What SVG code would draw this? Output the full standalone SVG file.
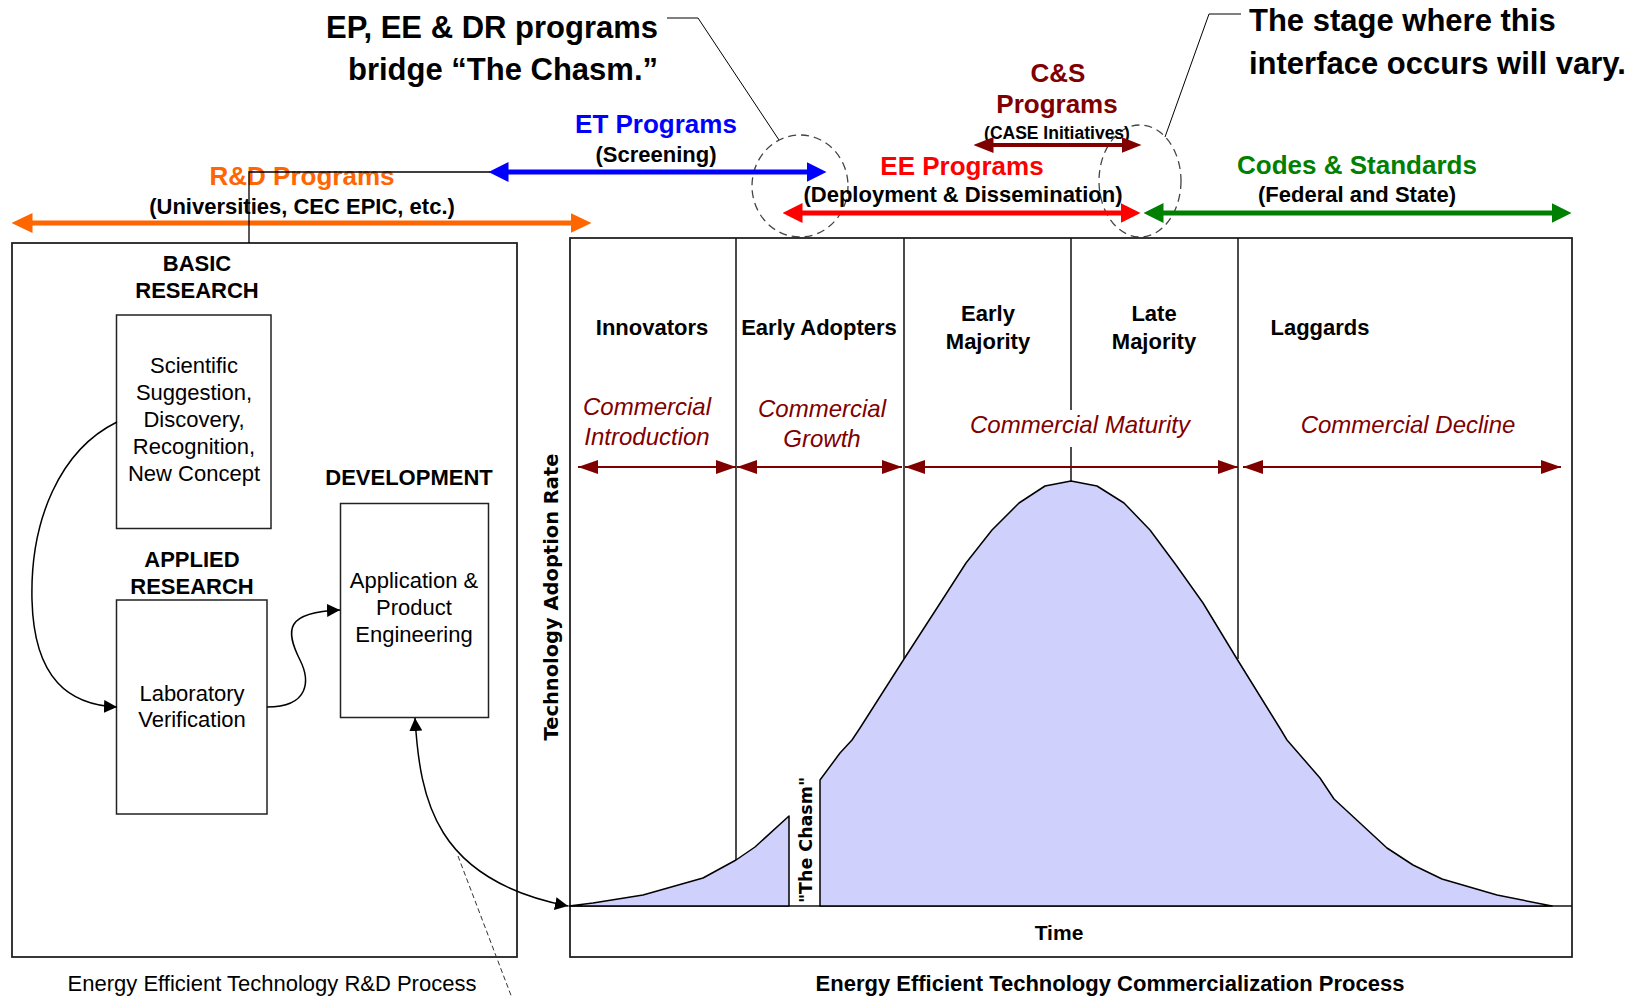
<svg xmlns="http://www.w3.org/2000/svg" width="1645" height="998" viewBox="0 0 1645 998">
<style>
text { font-family: "Liberation Sans", Arial, sans-serif; fill: #000; }
.big { font-size: 31px; font-weight: bold; }
.hdr { font-size: 26px; font-weight: bold; text-anchor: middle; }
.sub { font-size: 22px; font-weight: bold; text-anchor: middle; }
.lbl { font-size: 22px; font-weight: bold; text-anchor: middle; }
.reg { font-size: 22px; text-anchor: middle; }
.it { font-size: 24px; font-style: italic; fill: #800000; text-anchor: middle; }
.wide { font-family: "DejaVu Sans", Verdana, sans-serif; font-weight: bold; text-anchor: middle; }
.box { fill: #fff; stroke: #222; stroke-width: 1.5; }
.frame { fill: none; stroke: #222; stroke-width: 1.8; }
.thin { fill: none; stroke: #000; stroke-width: 1.5; }
.div { fill: none; stroke: #111; stroke-width: 1.5; }
.dash { fill: none; stroke: #444; stroke-width: 1.3; stroke-dasharray: 8 5; }
.mar { stroke: #800000; stroke-width: 2; fill: none; }
.curve { fill: #d0d0fc; stroke: #000; stroke-width: 1.5; stroke-linejoin: round; }
</style>
<defs>
<marker id="mOrange" markerUnits="userSpaceOnUse" markerWidth="21" markerHeight="20" refX="0.5" refY="10" orient="auto-start-reverse"><path d="M0,0 L21,10 L0,20 z" fill="#ff6600"/></marker>
<marker id="mBlue" markerUnits="userSpaceOnUse" markerWidth="20" markerHeight="20" refX="0.5" refY="10" orient="auto-start-reverse"><path d="M0,0 L20,10 L0,20 z" fill="#0000ff"/></marker>
<marker id="mRed" markerUnits="userSpaceOnUse" markerWidth="20" markerHeight="20" refX="0.5" refY="10" orient="auto-start-reverse"><path d="M0,0 L20,10 L0,20 z" fill="#ff0000"/></marker>
<marker id="mGreen" markerUnits="userSpaceOnUse" markerWidth="20" markerHeight="20" refX="0.5" refY="10" orient="auto-start-reverse"><path d="M0,0 L20,10 L0,20 z" fill="#008000"/></marker>
<marker id="mCS" markerUnits="userSpaceOnUse" markerWidth="20" markerHeight="16" refX="0.5" refY="8" orient="auto-start-reverse"><path d="M0,0 L20,8 L0,16 z" fill="#800000"/></marker>
<marker id="mMar" markerUnits="userSpaceOnUse" markerWidth="20" markerHeight="14" refX="20" refY="7" orient="auto-start-reverse"><path d="M0,0 L20,7 L0,14 z" fill="#800000"/></marker>
<marker id="mBlk" markerUnits="userSpaceOnUse" markerWidth="13" markerHeight="13" refX="13" refY="6.5" orient="auto-start-reverse"><path d="M0,0 L13,6.5 L0,13 z" fill="#000"/></marker>
</defs>
<rect width="1645" height="998" fill="#fff"/>

<!-- Callouts -->
<g id="callout-chasm">
<text class="big" x="658" y="38" text-anchor="end">EP, EE &amp; DR programs</text>
<text class="big" x="658" y="80" text-anchor="end">bridge “The Chasm.”</text>
<polyline class="thin" style="stroke-width:1" points="667,18 698,18 779,140"/>
<ellipse class="dash" cx="800" cy="186" rx="48" ry="51"/>
</g>
<g id="callout-stage">
<text class="big" x="1249" y="31">The stage where this</text>
<text class="big" x="1249" y="74">interface occurs will vary.</text>
<polyline class="thin" style="stroke-width:1" points="1241,14 1209,14 1165,137"/>
<ellipse class="dash" cx="1140" cy="181" rx="41" ry="56"/>
</g>

<!-- Program labels -->
<g id="rd-programs">
<text class="hdr" x="302" y="185" fill="#ff6600" style="fill:#ff6600">R&amp;D Programs</text>
<text class="sub" x="302" y="214">(Universities, CEC EPIC, etc.)</text>
</g>
<g id="et-programs">
<text class="hdr" x="656" y="133" style="fill:#0000ff">ET Programs</text>
<text class="sub" x="656" y="162">(Screening)</text>
</g>
<g id="cs-programs">
<text class="hdr" x="1058" y="82" style="fill:#800000">C&amp;S</text>
<text class="hdr" x="1057" y="113" style="fill:#800000">Programs</text>
<text class="sub" x="1057" y="139" style="font-size:17.5px">(CASE Initiatives)</text>
</g>
<g id="ee-programs">
<text class="hdr" x="962" y="175" style="fill:#ff0000">EE Programs</text>
<text class="sub" x="963" y="202">(Deployment &amp; Dissemination)</text>
</g>
<g id="codes-standards">
<text class="hdr" x="1357" y="174" style="fill:#008000">Codes &amp; Standards</text>
<text class="sub" x="1357" y="202">(Federal and State)</text>
</g>

<!-- Left R&D process -->
<g id="rd-process">
<rect class="frame" x="12" y="243" width="505" height="714"/>
<text class="reg" x="272" y="991">Energy Efficient Technology R&amp;D Process</text>
</g>
<g id="basic-research">
<text class="lbl" x="197" y="271">BASIC</text>
<text class="lbl" x="197" y="298">RESEARCH</text>
<rect class="box" x="116.5" y="315" width="154.5" height="213.5"/>
<text class="reg" x="194" y="373">Scientific</text>
<text class="reg" x="194" y="400">Suggestion,</text>
<text class="reg" x="194" y="427">Discovery,</text>
<text class="reg" x="194" y="454">Recognition,</text>
<text class="reg" x="194" y="481">New Concept</text>
</g>
<g id="applied-research">
<text class="lbl" x="192" y="567">APPLIED</text>
<text class="lbl" x="192" y="594">RESEARCH</text>
<rect class="box" x="116.5" y="600" width="150.5" height="214"/>
<text class="reg" x="192" y="701">Laboratory</text>
<text class="reg" x="192" y="727">Verification</text>
</g>
<g id="development">
<text class="lbl" x="409" y="485">DEVELOPMENT</text>
<rect class="box" x="340.5" y="503.5" width="148" height="214"/>
<text class="reg" x="414" y="588">Application &amp;</text>
<text class="reg" x="414" y="615">Product</text>
<text class="reg" x="414" y="642">Engineering</text>
</g>

<!-- Right commercialization process -->
<g id="commercialization">
<rect class="frame" x="570" y="238" width="1002" height="719"/>
<line class="div" x1="736" y1="238" x2="736" y2="860"/>
<line class="div" x1="904" y1="238" x2="904" y2="659"/>
<line class="div" x1="1071" y1="238" x2="1071" y2="410"/>
<line class="div" x1="1071" y1="447" x2="1071" y2="481"/>
<line class="div" x1="1238" y1="238" x2="1238" y2="659"/>
<line class="div" x1="570" y1="906" x2="1572" y2="906"/>
<path class="curve" d="M569,906 L593,903 L643,895 L703,878 L736,860 L755,847 L789,816 L789,906 Z"/>
<path class="curve" d="M820,906 L820,780 L840,753 L852,740 L860,728 L904,659 L937,608 L966,563 L992,530 L1019,503 L1045,486 L1071,481 L1097,486 L1124,503 L1150,530 L1176,565 L1203,603 L1237,659 L1281,730 L1287,740 L1320,778 L1334,799 L1387,848 L1413,865 L1442,879 L1497,895 L1552,906 Z"/>
<text class="wide" transform="translate(812,840) rotate(-90)" style="font-size:17.5px" textLength="126" lengthAdjust="spacingAndGlyphs">"The Chasm"</text>
<text class="wide" transform="translate(558,597) rotate(-90)" style="font-size:19px" textLength="287" lengthAdjust="spacingAndGlyphs">Technology Adoption Rate</text>
<text class="lbl" x="1059" y="940" style="font-size:21px">Time</text>
<text class="lbl" x="1110" y="991">Energy Efficient Technology Commercialization Process</text>
</g>
<g id="stage-innovators">
<text class="lbl" x="652" y="335">Innovators</text>
<text class="it" x="647" y="415">Commercial</text>
<text class="it" x="647" y="445">Introduction</text>
</g>
<g id="stage-early-adopters">
<text class="lbl" x="819" y="335">Early Adopters</text>
<text class="it" x="822" y="417">Commercial</text>
<text class="it" x="822" y="447">Growth</text>
</g>
<g id="stage-early-majority">
<text class="lbl" x="988" y="321">Early</text>
<text class="lbl" x="988" y="349">Majority</text>
</g>
<g id="stage-late-majority">
<text class="lbl" x="1154" y="321">Late</text>
<text class="lbl" x="1154" y="349">Majority</text>
</g>
<g id="stage-maturity">
<text class="it" x="1080" y="433">Commercial Maturity</text>
</g>
<g id="stage-laggards">
<text class="lbl" x="1320" y="335">Laggards</text>
<text class="it" x="1408" y="433">Commercial Decline</text>
</g>

<!-- Connectors -->
<g id="connectors">
<line x1="32" y1="223" x2="571" y2="223" stroke="#ff6600" stroke-width="5" marker-start="url(#mOrange)" marker-end="url(#mOrange)"/>
<line x1="508" y1="172" x2="807" y2="172" stroke="#0000ff" stroke-width="5" marker-start="url(#mBlue)" marker-end="url(#mBlue)"/>
<line x1="802" y1="213" x2="1121" y2="213" stroke="#ff0000" stroke-width="5" marker-start="url(#mRed)" marker-end="url(#mRed)"/>
<line x1="1163" y1="213" x2="1552" y2="213" stroke="#008000" stroke-width="5" marker-start="url(#mGreen)" marker-end="url(#mGreen)"/>
<line x1="993" y1="145" x2="1122" y2="145" stroke="#800000" stroke-width="4" marker-start="url(#mCS)" marker-end="url(#mCS)"/>
<polyline class="thin" style="stroke-width:1.3" points="249,243 249,172 490,172"/>
<line class="mar" x1="578" y1="467" x2="736" y2="467" marker-start="url(#mMar)" marker-end="url(#mMar)"/>
<line class="mar" x1="737" y1="467" x2="902" y2="467" marker-start="url(#mMar)" marker-end="url(#mMar)"/>
<line class="mar" x1="905" y1="467" x2="1238" y2="467" marker-start="url(#mMar)" marker-end="url(#mMar)"/>
<line class="mar" x1="1243" y1="467" x2="1561" y2="467" marker-start="url(#mMar)" marker-end="url(#mMar)"/>
<path class="thin" d="M117,422 C60,450 30,520 32,600 C34,680 70,705 117,707" marker-end="url(#mBlk)"/>
<path class="thin" d="M267,707 C310,707 310,680 300,660 C285,630 285,612 340,610" marker-end="url(#mBlk)"/>
<path class="thin" d="M415,718 C420,800 435,880 568,906" marker-start="url(#mBlk)" marker-end="url(#mBlk)"/>
<line x1="458" y1="856" x2="512" y2="998" stroke="#333" stroke-width="1" stroke-dasharray="5 3"/>
</g>
</svg>
